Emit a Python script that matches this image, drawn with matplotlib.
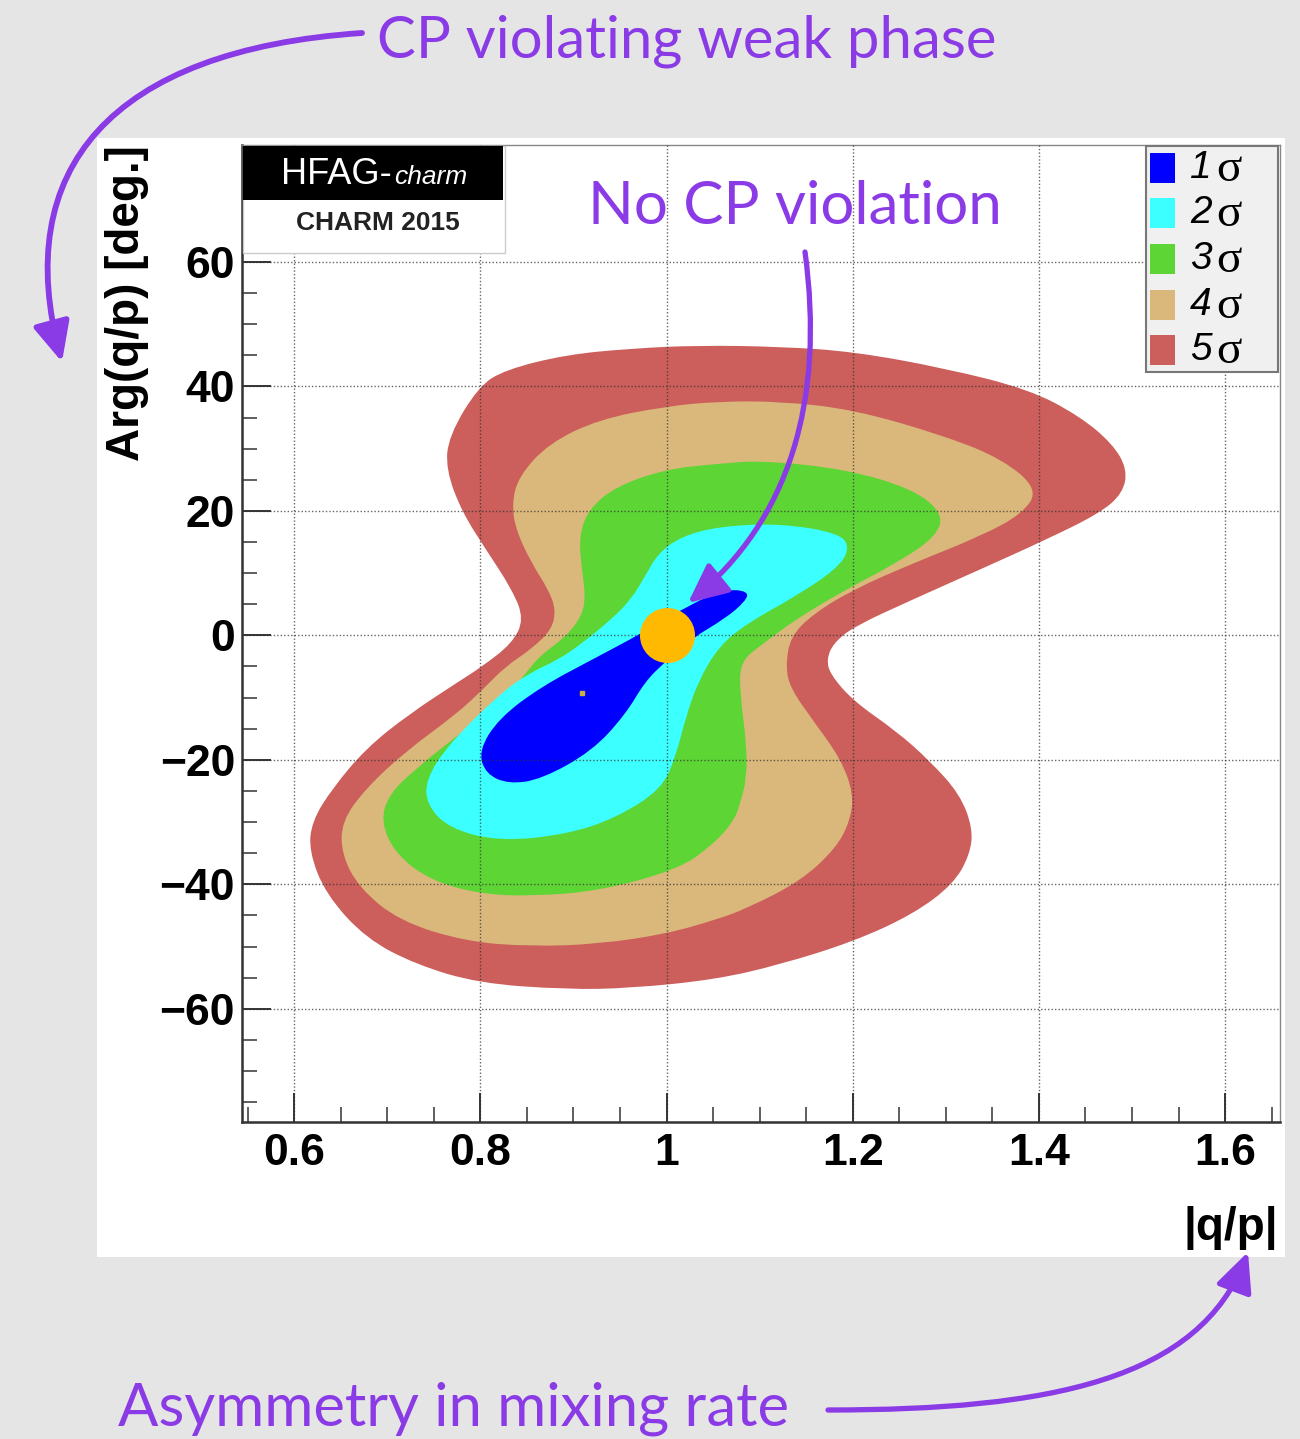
import numpy as np
import matplotlib
matplotlib.use('Agg')
import matplotlib.pyplot as plt
from matplotlib.patches import Rectangle, FancyArrowPatch, PathPatch
from matplotlib.path import Path
from matplotlib.ticker import MultipleLocator


# confidence region outlines in (|q/p|, arg(q/p) [deg]) for 1..5 sigma
sigma5_x = [0.763, 0.766, 0.798, 0.827, 0.892, 0.962, 1.034, 1.122, 1.201, 1.300,
            1.390, 1.444, 1.479, 1.495, 1.490, 1.465, 1.408, 1.337, 1.265, 1.201,
            1.179, 1.172, 1.176, 1.201, 1.247, 1.283, 1.315, 1.329, 1.326, 1.308,
            1.265, 1.201, 1.122, 1.053, 0.962, 0.892, 0.798, 0.731, 0.677, 0.634,
            0.616, 0.619, 0.641, 0.677, 0.723, 0.777, 0.802, 0.834, 0.847, 0.834,
            0.806, 0.780]
sigma5_y = [26.7, 32.0, 40.0, 42.7, 45.1, 46.1, 46.6, 46.4, 45.6, 42.9,
            39.5, 35.2, 30.8, 26.7, 22.8, 19.6, 15.4, 10.6, 5.8, 1.4,
            -1.3, -3.9, -6.3, -10.6, -15.4, -20.2, -25.5, -31.0, -35.2, -40.0,
            -44.8, -49.2, -52.9, -55.3, -56.7, -56.9, -55.9, -52.9, -48.7, -41.6,
            -34.7, -29.9, -24.6, -18.2, -12.7, -7.4, -5.0, -1.3, 2.6, 7.4,
            13.8, 19.9]

sigma4_x = [0.834, 0.841, 0.873, 0.927, 0.999, 1.056, 1.122, 1.201, 1.300, 1.361,
            1.399, 1.383, 1.337, 1.265, 1.201, 1.158, 1.133, 1.128, 1.133, 1.158,
            1.187, 1.201, 1.197, 1.182, 1.144, 1.086, 1.053, 0.999, 0.927, 0.855,
            0.784, 0.713, 0.670, 0.651, 0.651, 0.677, 0.720, 0.774, 0.804, 0.827,
            0.855, 0.877, 0.881, 0.873, 0.855, 0.838]
sigma4_y = [21.2, 25.5, 30.8, 34.7, 36.8, 37.6, 37.6, 36.3, 32.0, 28.3,
            23.5, 19.6, 15.9, 11.6, 7.4, 3.5, -0.2, -5.0, -8.5, -13.8,
            -19.8, -25.5, -29.9, -34.2, -39.5, -43.9, -45.7, -48.0, -49.6, -50.0,
            -49.2, -45.9, -40.6, -35.2, -29.9, -24.6, -18.6, -12.7, -8.5, -5.0,
            -2.2, 1.0, 4.2, 7.4, 11.6, 17.0]

sigma3_x = [0.906, 0.916, 0.945, 0.999, 1.056, 1.104, 1.193, 1.265, 1.297, 1.290,
            1.247, 1.193, 1.139, 1.104, 1.079, 1.079, 1.086, 1.086, 1.079, 1.072,
            1.050, 1.013, 0.927, 0.855, 0.802, 0.748, 0.709, 0.693, 0.702, 0.731,
            0.777, 0.820, 0.849, 0.863, 0.892, 0.909, 0.913, 0.909]
sigma3_y = [15.9, 20.2, 23.9, 26.7, 27.6, 28.1, 26.7, 23.5, 19.6, 15.9,
            11.6, 7.4, 2.6, -1.3, -4.2, -9.5, -17.5, -23.0, -27.1, -29.9,
            -33.6, -37.6, -41.1, -41.9, -41.6, -39.5, -35.2, -29.9, -25.5, -21.4,
            -15.9, -11.1, -6.1, -3.4, -0.2, 3.1, 6.3, 10.6]

sigma2_x = [0.884, 0.909, 0.941, 0.962, 0.977, 0.991, 1.016, 1.056, 1.122, 1.187,
            1.197, 1.182, 1.139, 1.086, 1.056, 1.034, 1.021, 1.010, 0.995, 0.945,
            0.892, 0.820, 0.766, 0.742, 0.742, 0.766, 0.820, 0.852]
sigma2_y = [-3.9, -1.3, 2.6, 5.8, 9.5, 13.2, 15.9, 17.5, 18.0, 16.4,
            13.8, 10.6, 6.3, 1.9, -1.8, -7.4, -13.0, -19.4, -24.7, -29.4,
            -32.0, -33.1, -31.0, -27.1, -23.0, -17.5, -9.5, -6.1]

sigma1_x = [1.088, 1.063, 1.027, 0.973, 0.920, 0.866, 0.820, 0.798, 0.806, 0.831,
            0.866, 0.920, 0.956, 0.977, 0.999, 1.027, 1.063, 1.085]
sigma1_y = [7.1, 7.4, 5.1, 0.3, -3.9, -8.2, -13.3, -18.6, -22.3, -23.9,
            -23.1, -18.6, -12.7, -7.4, -4.2, -0.5, 2.7, 5.5]

best_fit = (0.909, -9.3)
no_cpv = (1.0, 0.0)

sigma_labels = ['1', '2', '3', '4', '5']
sigma_colors = ['#0000ff', '#3cffff', '#5dd535', '#dab87b', '#cc5e5b']

x_ticks = [0.6, 0.8, 1.0, 1.2, 1.4, 1.6]
x_ticklabels = ['0.6', '0.8', '1', '1.2', '1.4', '1.6']
y_ticks = [-60, -40, -20, 0, 20, 40, 60]
y_ticklabels = ['\u221260', '\u221240', '\u221220', '0', '20', '40', '60']

PURPLE = '#8a3be6'
W, H = 1300, 1439


def fx(x):
    return x / W


def fy(y):
    return 1 - y / H


def fig_rect(x0, y0, x1, y1, **kw):
    return Rectangle((fx(x0), fy(y1)), (x1 - x0) / W, (y1 - y0) / H,
                     transform=fig.transFigure, **kw)


def smooth_outline(xs, ys):
    # closed quadratic-bezier path using the outline points as control points
    pts = np.column_stack([xs, ys])
    mids = (pts + np.roll(pts, -1, axis=0)) / 2
    verts = [mids[-1]]
    codes = [Path.MOVETO]
    for p, m in zip(pts, mids):
        verts += [p, m]
        codes += [Path.CURVE3, Path.CURVE3]
    return Path(verts, codes)


def curved_arrow(pts, lw=3.8):
    verts = [(fx(x), fy(y)) for x, y in pts]
    path = Path(verts, [Path.MOVETO, Path.CURVE4, Path.CURVE4, Path.CURVE4])
    arr = FancyArrowPatch(path=path, transform=fig.transFigure,
                          arrowstyle='-|>,head_length=0.6,head_width=0.28',
                          mutation_scale=40, lw=lw, color=PURPLE, zorder=10)
    fig.add_artist(arr)


def fit_text(x, y, s, width_px, **kw):
    t = fig.text(fx(x), fy(y), s, **kw)
    w = t.get_window_extent(fig.canvas.get_renderer()).width
    t.set_fontsize(t.get_fontsize() * width_px / w)
    return t


plt.rcParams['font.family'] = ['Liberation Sans', 'DejaVu Sans']

fig = plt.figure(figsize=(13, 14.39), dpi=100, facecolor='#e5e5e5')
fig.add_artist(fig_rect(97, 138, 1285, 1257, facecolor='white', edgecolor='none', zorder=-1))

ax = fig.add_axes([fx(242), fy(1122), 1038 / W, 977 / H])
ax.set_facecolor('white')

outlines = [(sigma5_x, sigma5_y), (sigma4_x, sigma4_y), (sigma3_x, sigma3_y),
            (sigma2_x, sigma2_y), (sigma1_x, sigma1_y)]
for (xs, ys), col in zip(outlines, sigma_colors[::-1]):
    ax.add_patch(PathPatch(smooth_outline(xs, ys), facecolor=col, edgecolor='none', zorder=1))

ax.plot(*best_fit, marker='s', ms=3, color='#c9b23a', zorder=3)
ax.scatter([no_cpv[0]], [no_cpv[1]], s=1570, color='#ffb900', zorder=6, linewidths=0)

ax.set_xlim(0.544, 1.659)
ax.set_ylim(-78.2, 78.8)
ax.set_xticks(x_ticks)
ax.set_xticklabels(x_ticklabels)
ax.set_yticks(y_ticks)
ax.set_yticklabels(y_ticklabels)
ax.xaxis.set_minor_locator(MultipleLocator(0.05))
ax.yaxis.set_minor_locator(MultipleLocator(5))
ax.tick_params(which='major', direction='in', length=21, width=1.4, labelsize=32, color='#333333')
ax.tick_params(which='minor', direction='in', length=10.5, width=1.1, color='#333333')
ax.tick_params(axis='x', pad=8)
ax.tick_params(axis='y', pad=5)
for lab in ax.get_xticklabels() + ax.get_yticklabels():
    lab.set_fontweight('bold')

ax.set_axisbelow(False)
ax.grid(True, which='major', color='#333333', linestyle=(0, (1, 1.5)), linewidth=1.0, alpha=0.75)

for side in ['left', 'bottom']:
    ax.spines[side].set_linewidth(1.8)
    ax.spines[side].set_color('#333333')
for side in ['top', 'right']:
    ax.spines[side].set_linewidth(1.0)
    ax.spines[side].set_color('#888888')

fig.text(fx(127), fy(145), 'Arg(q/p) [deg.]', rotation=90, ha='center', va='top',
         fontsize=33, fontweight='bold')
fig.text(fx(1278), fy(1228), '|q/p|', ha='right', va='center', fontsize=33, fontweight='bold')

# HFAG logo box
fig.add_artist(fig_rect(243, 146, 505, 253, facecolor='white', edgecolor='#cccccc', lw=1, zorder=5))
fig.add_artist(fig_rect(243, 146, 503, 200, facecolor='black', edgecolor='none', zorder=5))
fig.text(fx(281), fy(184), 'HFAG-', color='white', fontsize=26, zorder=6)
fig.text(fx(394), fy(184), 'charm', color='white', fontsize=19, style='italic', zorder=6)
fig.text(fx(378), fy(230), 'CHARM 2015', color='#222222', fontsize=19, fontweight='bold',
         ha='center', zorder=6)

# legend
fig.add_artist(fig_rect(1146, 146, 1278, 372, facecolor='#f0f0f0', edgecolor='#777777', lw=1.5, zorder=5))
entry_y = [168, 213, 259, 305, 350]
for lab, col, yc in zip(sigma_labels, sigma_colors, entry_y):
    fig.add_artist(fig_rect(1150, yc - 15, 1175, yc + 15, facecolor=col, edgecolor='none', zorder=6))
    fig.text(fx(1190), fy(yc), lab, fontsize=28, style='italic', va='center', zorder=6)
    fig.text(fx(1216), fy(yc + 2), '\u03c3', fontsize=34, family='Liberation Serif',
             va='center', zorder=6)

# annotations
fig.canvas.draw()
fit_text(377, 57, 'CP violating weak phase', 621, color=PURPLE, fontsize=44, family='Lato')
fit_text(588, 224, 'No CP violation', 415, color=PURPLE, fontsize=44, family='Lato')
fit_text(118, 1426, 'Asymmetry in mixing rate', 672, color=PURPLE, fontsize=44, family='Lato')

curved_arrow([(362, 33), (110, 50), (10, 170), (62, 362)], lw=4.2)
curved_arrow([(805, 252), (825, 400), (790, 520), (688, 603)])
curved_arrow([(828, 1410), (1050, 1410), (1200, 1380), (1248, 1252)])

fig.savefig('out.png', dpi=100, facecolor=fig.get_facecolor())
